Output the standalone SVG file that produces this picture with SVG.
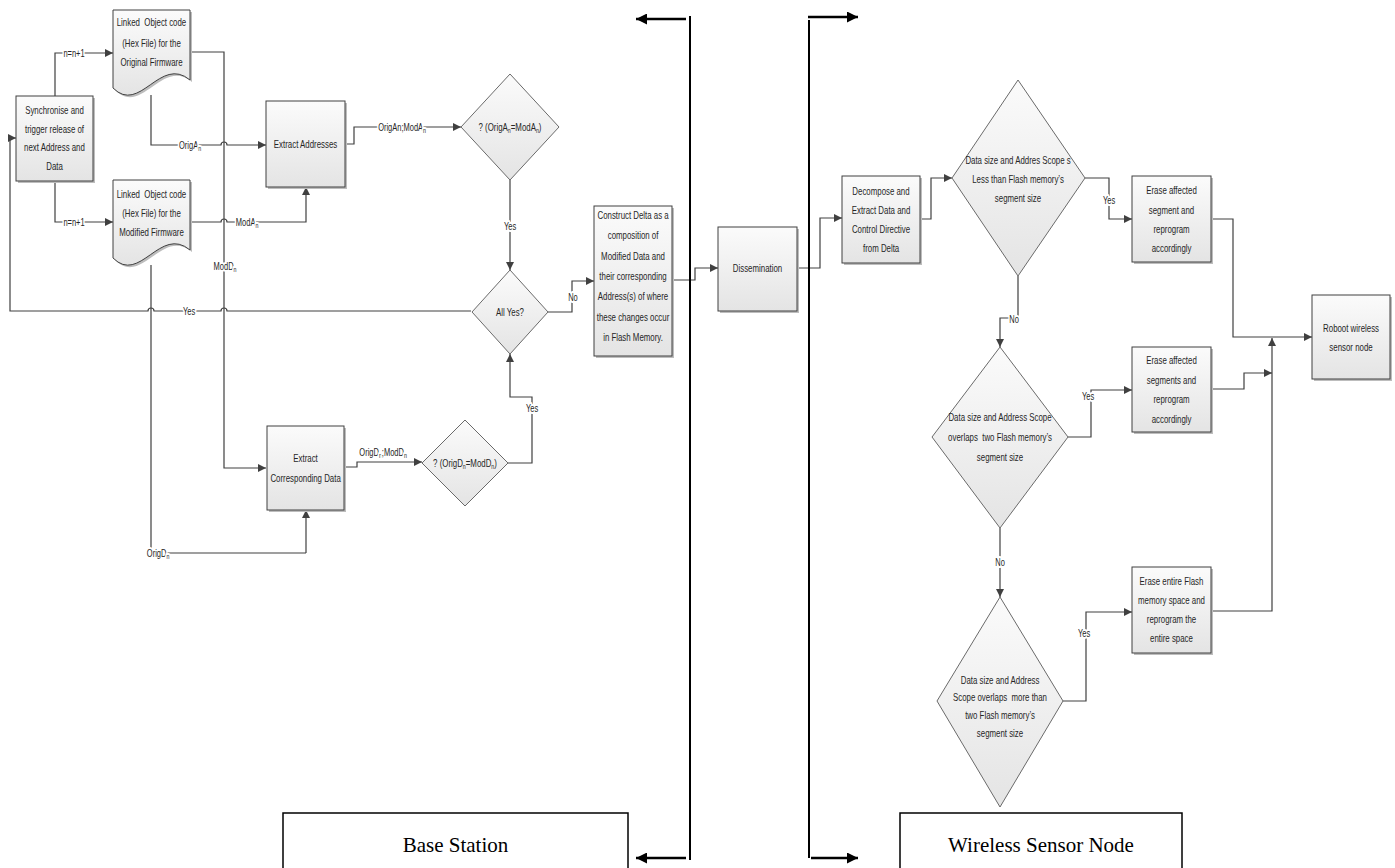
<svg xmlns="http://www.w3.org/2000/svg" width="1395" height="868" viewBox="0 0 1395 868">
<defs>
<linearGradient id="g" x1="0" y1="0" x2="0" y2="1">
<stop offset="0" stop-color="#fbfbfb"/>
<stop offset="1" stop-color="#e4e4e4"/>
</linearGradient>
<marker id="a" viewBox="0 0 10 10" refX="10" refY="5" markerWidth="9" markerHeight="8" markerUnits="userSpaceOnUse" orient="auto">
<path d="M0,0 L10,5 L0,10 z" fill="#404040"/>
</marker>
<marker id="b" viewBox="0 0 10 10" refX="10" refY="5" markerWidth="14" markerHeight="11" markerUnits="userSpaceOnUse" orient="auto">
<path d="M0,0 L10,5 L0,10 z" fill="#000"/>
</marker>
</defs>
<style>
.box{fill:url(#g);stroke:#404040;stroke-width:1}
.dia{fill:url(#g);stroke:#6a6a6a;stroke-width:1}
.sh{fill:#bdbdbd}
.t{font-family:"Liberation Sans",Arial,sans-serif;font-size:10.5px;fill:#262626;text-anchor:middle;transform-box:fill-box;transform-origin:50% 50%;transform:scaleX(0.75)}
.l{font-family:"Liberation Sans",Arial,sans-serif;font-size:10px;fill:#262626;text-anchor:middle;stroke:#fff;stroke-width:4px;paint-order:stroke;stroke-linejoin:round;transform-box:fill-box;transform-origin:50% 50%;transform:scaleX(0.75)}
.c{fill:none;stroke:#404040;stroke-width:1.2}
.ca{fill:none;stroke:#404040;stroke-width:1.2;marker-end:url(#a)}
.p{fill:none;stroke:#000;stroke-width:2}
.pa{fill:none;stroke:#000;stroke-width:2.5;marker-end:url(#b)}
.big{fill:#fff;stroke:#000;stroke-width:1.5}
.bt{font-family:"Liberation Serif",serif;font-size:21px;fill:#000;text-anchor:middle}
.sub{font-size:7px}
</style>

<g id="connectors">
<path class="ca" d="M55,96 V53 H113"/>
<path class="ca" d="M55,181 V222 H113"/>
<path class="ca" d="M190,52 H224 V468 H266"/>
<path class="ca" d="M151,95 V145 H221 a3,3 0 0 1 6,0 H266"/>
<path class="ca" d="M190,222 H221 a3,3 0 0 1 6,0 H306 V187"/>
<path class="ca" d="M345,144 H354 V127 H461"/>
<path class="ca" d="M510,180 V270"/>
<path class="ca" d="M548,312 H572 V281 H594"/>
<path class="ca" d="M471,311 H227 a3,3 0 0 0 -6,0 H154 a3,3 0 0 0 -6,0 H10 V138 H16"/>
<path class="c" d="M151,265 V553 H306"/>
<path class="ca" d="M306,553 V510"/>
<path class="ca" d="M344,467 H357 V462 H422"/>
<path class="ca" d="M508,463 H532 V397 H510 V354"/>
<path class="ca" d="M672,280 H695 V268 H718"/>
<path class="ca" d="M797,268 H820 V218 H842"/>
<path class="ca" d="M920,219 H931 V178 H952"/>
<path class="ca" d="M1085,178 H1109 V219 H1132"/>
<path class="ca" d="M1018,276 V318 H1000 V347"/>
<path class="ca" d="M1068,437 H1091 V390 H1132"/>
<path class="ca" d="M1000,528 V597"/>
<path class="ca" d="M1063,701 H1086 V612 H1132"/>
<path class="ca" d="M1211,219 H1233 V337 H1312"/>
<path class="ca" d="M1211,389 H1244 V373 H1272"/>
<path class="ca" d="M1211,611 H1272 V338"/>
<path class="p" d="M690,16 V860"/>
<path class="p" d="M809,20 V858"/>
<path class="pa" d="M686,19 H636"/>
<path class="pa" d="M686,858 H636"/>
<path class="pa" d="M808,17 H858"/>
<path class="pa" d="M811,858 H858"/>
<text class="l" x="74" y="57">n=n+1</text>
<text class="l" x="74" y="226">n=n+1</text>
<text class="l" x="225" y="270">ModD<tspan class="sub" dy="2">n</tspan></text>
<text class="l" x="190" y="149">OrigA<tspan class="sub" dy="2">n</tspan></text>
<text class="l" x="247" y="226">ModA<tspan class="sub" dy="2">n</tspan></text>
<text class="l" x="402" y="131">OrigAn;ModA<tspan class="sub" dy="2">n</tspan></text>
<text class="l" x="510" y="230">Yes</text>
<text class="l" x="573" y="301">No</text>
<text class="l" x="189" y="315">Yes</text>
<text class="l" x="158" y="557">OrigD<tspan class="sub" dy="2">n</tspan></text>
<text class="l" x="383" y="456">OrigD<tspan class="sub" dy="2">n</tspan><tspan dy="-2">;ModD</tspan><tspan class="sub" dy="2">n</tspan></text>
<text class="l" x="532" y="412">Yes</text>
<text class="l" x="1109" y="204">Yes</text>
<text class="l" x="1014" y="323">No</text>
<text class="l" x="1088" y="400">Yes</text>
<text class="l" x="1000" y="566">No</text>
<text class="l" x="1084" y="637">Yes</text>
</g>

<g id="sync">
<rect class="sh" x="18" y="98" width="77" height="85"/>
<rect class="box" x="16" y="96" width="77" height="85"/>
<text class="t" x="54.5" y="114">Synchronise and</text>
<text class="t" x="54.5" y="133">trigger release of</text>
<text class="t" x="54.5" y="151">next Address and</text>
<text class="t" x="54.5" y="170">Data</text>
</g>

<g id="orig-doc">
<path class="sh" d="M115,12 H192 V82 C162,57 142,117 115,90 Z"/>
<path class="box" d="M113,10 H190 V80 C160,55 140,115 113,88 Z"/>
<text class="t" x="151.5" y="26" xml:space="preserve">Linked  Object code</text>
<text class="t" x="151.5" y="47">(Hex File) for the</text>
<text class="t" x="151.5" y="66">Original Firmware</text>
</g>

<g id="mod-doc">
<path class="sh" d="M115,182 H192 V252 C162,227 142,287 115,260 Z"/>
<path class="box" d="M113,180 H190 V250 C160,225 140,285 113,258 Z"/>
<text class="t" x="151.5" y="198" xml:space="preserve">Linked  Object code</text>
<text class="t" x="151.5" y="217">(Hex File) for the</text>
<text class="t" x="151.5" y="236">Modified Firmware</text>
</g>

<g id="extract-addresses">
<rect class="sh" x="268" y="103" width="79" height="86"/>
<rect class="box" x="266" y="101" width="79" height="86"/>
<text class="t" x="305.5" y="148">Extract Addresses</text>
</g>

<g id="cmp-addr">
<polygon class="dia" points="510,74 559,127 510,180 461,127"/>
<text class="t" x="510" y="131">? (OrigA<tspan class="sub" dy="2">n</tspan><tspan dy="-2">=ModA</tspan><tspan class="sub" dy="2">n</tspan><tspan dy="-2">)</tspan></text>
</g>

<g id="all-yes">
<polygon class="dia" points="510,270 548,312 510,354 472,312"/>
<text class="t" x="510" y="316">All Yes?</text>
</g>

<g id="extract-data">
<rect class="sh" x="269" y="428" width="77" height="84"/>
<rect class="box" x="267" y="426" width="77" height="84"/>
<text class="t" x="305.5" y="462">Extract</text>
<text class="t" x="305.5" y="482">Corresponding Data</text>
</g>

<g id="cmp-data">
<polygon class="dia" points="465,420 508,463 465,506 422,463"/>
<text class="t" x="465" y="467">? (OrigD<tspan class="sub" dy="2">n</tspan><tspan dy="-2">=ModD</tspan><tspan class="sub" dy="2">n</tspan><tspan dy="-2">)</tspan></text>
</g>

<g id="construct-delta">
<rect class="sh" x="596" y="208" width="78" height="150"/>
<rect class="box" x="594" y="206" width="78" height="150"/>
<text class="t" x="633" y="219">Construct Delta as a</text>
<text class="t" x="633" y="239.5">composition of</text>
<text class="t" x="633" y="260">Modified Data and</text>
<text class="t" x="633" y="280">their corresponding</text>
<text class="t" x="633" y="300">Address(s) of where</text>
<text class="t" x="633" y="321">these changes occur</text>
<text class="t" x="633" y="341">in Flash Memory.</text>
</g>

<g id="dissemination">
<rect class="sh" x="720" y="229" width="79" height="84"/>
<rect class="box" x="718" y="227" width="79" height="84"/>
<text class="t" x="757.5" y="272">Dissemination</text>
</g>

<g id="decompose">
<rect class="sh" x="844" y="178" width="78" height="87"/>
<rect class="box" x="842" y="176" width="78" height="87"/>
<text class="t" x="881" y="195">Decompose and</text>
<text class="t" x="881" y="214">Extract Data and</text>
<text class="t" x="881" y="233">Control Directive</text>
<text class="t" x="881" y="252">from Delta</text>
</g>

<g id="check-one-segment">
<polygon class="dia" points="1018,80 1085,178 1018,276 952,178"/>
<text class="t" x="1018" y="164">Data size and Addres Scope s</text>
<text class="t" x="1018" y="183">Less than Flash memory’s</text>
<text class="t" x="1018" y="202">segment size</text>
</g>

<g id="check-two-segments">
<polygon class="dia" points="1000,347 1068,437 1000,528 932,437"/>
<text class="t" x="1000" y="421">Data size and Address Scope</text>
<text class="t" x="1000" y="441" xml:space="preserve">overlaps  two Flash memory’s</text>
<text class="t" x="1000" y="461">segment size</text>
</g>

<g id="check-more-segments">
<polygon class="dia" points="1000,597 1063,701 1000,807 937,701"/>
<text class="t" x="1000" y="684">Data size and Address</text>
<text class="t" x="1000" y="701" xml:space="preserve">Scope overlaps  more than</text>
<text class="t" x="1000" y="719">two Flash memory’s</text>
<text class="t" x="1000" y="737">segment size</text>
</g>

<g id="erase-segment">
<rect class="sh" x="1134" y="178" width="79" height="86"/>
<rect class="box" x="1132" y="176" width="79" height="86"/>
<text class="t" x="1171.5" y="194">Erase affected</text>
<text class="t" x="1171.5" y="214">segment and</text>
<text class="t" x="1171.5" y="233">reprogram</text>
<text class="t" x="1171.5" y="252">accordingly</text>
</g>

<g id="erase-segments">
<rect class="sh" x="1134" y="349" width="79" height="85"/>
<rect class="box" x="1132" y="347" width="79" height="85"/>
<text class="t" x="1171.5" y="364">Erase affected</text>
<text class="t" x="1171.5" y="384">segments and</text>
<text class="t" x="1171.5" y="403">reprogram</text>
<text class="t" x="1171.5" y="423">accordingly</text>
</g>

<g id="erase-entire">
<rect class="sh" x="1134" y="569" width="79" height="86"/>
<rect class="box" x="1132" y="567" width="79" height="86"/>
<text class="t" x="1171.5" y="585">Erase entire Flash</text>
<text class="t" x="1171.5" y="604">memory space and</text>
<text class="t" x="1171.5" y="623">reprogram the</text>
<text class="t" x="1171.5" y="642">entire space</text>
</g>

<g id="reboot">
<rect class="sh" x="1314" y="297" width="78" height="84"/>
<rect class="box" x="1312" y="295" width="78" height="84"/>
<text class="t" x="1351" y="332">Roboot wireless</text>
<text class="t" x="1351" y="351">sensor node</text>
</g>

<g id="base-station">
<rect class="big" x="283" y="813" width="345" height="60"/>
<text class="bt" x="455.5" y="852">Base Station</text>
</g>

<g id="wireless-sensor-node">
<rect class="big" x="900" y="813" width="282" height="60"/>
<text class="bt" x="1041" y="852">Wireless Sensor Node</text>
</g>
</svg>
